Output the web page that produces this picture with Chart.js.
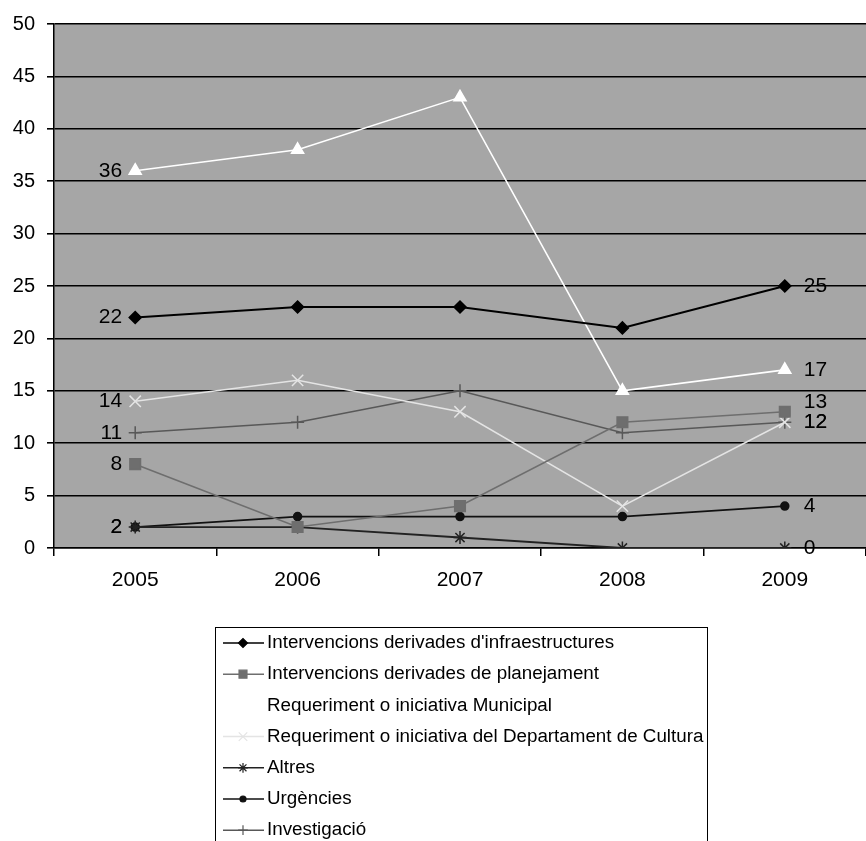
<!DOCTYPE html>
<html>
<head>
<meta charset="utf-8">
<style>
html,body{margin:0;padding:0;background:#fff;overflow:hidden;}
#wrap{width:866px;height:841px;}
</style>
<script src="https://cdn.jsdelivr.net/npm/chart.js@4.4.1/dist/chart.umd.min.js"></script>
</head>
<body>
<div id="wrap"><canvas id="c" width="866" height="841"></canvas></div>
<script>
const years = ['2005', '2006', '2007', '2008', '2009'];
const infraestructures = [22, 23, 23, 21, 25];
const planejament = [8, 2, 4, 12, 13];
const municipal = [36, 38, 43, 15, 17];
const cultura = [14, 16, 13, 4, 12];
const altres = [2, 2, 1, 0, 0];
const urgencies = [2, 3, 3, 3, 4];
const investigacio = [11, 12, 15, 11, 12];
const yTicks = [0, 5, 10, 15, 20, 25, 30, 35, 40, 45, 50];

const FONT = "'Liberation Sans', Arial, sans-serif";

function ds(label, data, color, style, radius, width) {
  return {
    label, data,
    borderColor: color, backgroundColor: color,
    pointBackgroundColor: color, pointBorderColor: color,
    pointStyle: style, pointRadius: radius, pointHoverRadius: radius,
    pointBorderWidth: 1.5, borderWidth: width, tension: 0, fill: false
  };
}

const datasets = [
  ds("Intervencions derivades d'infraestructures", infraestructures, '#000000', 'rectRot', 6, 2),
  ds('Intervencions derivades de planejament', planejament, '#6e6e6e', 'rect', 7.5, 1.6),
  ds('Requeriment o iniciativa Municipal', municipal, '#ffffff', 'triangle', 7, 1.6),
  ds('Requeriment o iniciativa del Departament de Cultura', cultura, '#e4e4e4', 'crossRot', 8, 1.5),
  ds('Altres', altres, '#222222', 'star', 6.5, 1.8),
  ds('Urgències', urgencies, '#111111', 'circle', 4, 1.8),
  ds('Investigació', investigacio, '#585858', 'cross', 6.5, 1.5)
];

const bgPlugin = {
  id: 'plotBg',
  beforeDraw(chart) {
    const {ctx, chartArea: a} = chart;
    ctx.save();
    ctx.fillStyle = '#a6a6a6';
    ctx.fillRect(a.left, a.top, a.right - a.left, a.bottom - a.top);
    ctx.restore();
  }
};

const labelPlugin = {
  id: 'endLabels',
  afterDatasetsDraw(chart) {
    const ctx = chart.ctx;
    ctx.save();
    ctx.font = '21px ' + FONT;
    ctx.fillStyle = '#000';
    ctx.textBaseline = 'middle';
    const rights = [];
    chart.data.datasets.forEach((d, i) => {
      const meta = chart.getDatasetMeta(i);
      const first = meta.data[0];
      const last = meta.data[meta.data.length - 1];
      ctx.textAlign = 'right';
      ctx.fillText(String(d.data[0]), first.x - 13, first.y);
      rights.push({text: String(d.data[d.data.length - 1]), x: last.x + 19, y: last.y});
    });
    // simple collision avoidance for right-hand labels: push the upper one up
    rights.sort((a, b) => b.y - a.y);
    for (let k = 1; k < rights.length; k++) {
      const below = rights[k - 1];
      if (below.y - rights[k].y < 20 && below.y - rights[k].y > 0) {
        rights[k].y = below.y - 20;
      }
    }
    ctx.textAlign = 'left';
    rights.forEach(r => ctx.fillText(r.text, r.x, r.y));
    ctx.restore();
  }
};

const legendPlugin = {
  id: 'boxLegend',
  afterDraw(chart) {
    const ctx = chart.ctx;
    const left = 215, top = 627, right = 707, bottom = 845;
    ctx.save();
    ctx.fillStyle = '#fff';
    ctx.fillRect(left, top, right - left, bottom - top);
    ctx.strokeStyle = '#000';
    ctx.lineWidth = 1;
    ctx.strokeRect(left + 0.5, top + 0.5, right - left, bottom - top);
    ctx.font = '18.8px ' + FONT;
    ctx.textAlign = 'left';
    ctx.textBaseline = 'middle';
    chart.data.datasets.forEach((d, i) => {
      const y = 643 + i * 31.2;
      ctx.strokeStyle = d.borderColor;
      ctx.lineWidth = 1.5;
      ctx.beginPath();
      ctx.moveTo(223, y);
      ctx.lineTo(264, y);
      ctx.stroke();
      ctx.fillStyle = d.pointBackgroundColor;
      ctx.strokeStyle = d.pointBorderColor;
      ctx.lineWidth = 1.2;
      Chart.helpers.drawPoint(ctx, {pointStyle: d.pointStyle, radius: d.pointRadius * 0.75, rotation: 0, borderWidth: 1.2}, 243, y);
      ctx.fillStyle = '#000';
      ctx.fillText(d.label, 267, y);
    });
    ctx.restore();
  }
};

new Chart(document.getElementById('c'), {
  type: 'line',
  data: {labels: years, datasets},
  options: {
    responsive: false,
    devicePixelRatio: 1,
    animation: false,
    events: [],
    layout: {autoPadding: false, padding: {top: 24, left: 0, right: -5, bottom: 243}},
    plugins: {legend: {display: false}, tooltip: {enabled: false}, title: {display: false}},
    scales: {
      x: {
        type: 'category',
        offset: true,
        grid: {offset: true, drawOnChartArea: false, drawTicks: true, tickLength: 8, color: '#000', lineWidth: 1.5},
        border: {display: true, color: '#000', width: 1.5},
        ticks: {color: '#000', font: {family: FONT, size: 21}, padding: 12, maxRotation: 0},
        afterFit(s) { s.height = 50; s.paddingLeft = 0; s.paddingRight = 0; }
      },
      y: {
        min: 0, max: 50,
        afterBuildTicks(s) { s.ticks = yTicks.map(v => ({value: v})); },
        grid: {color: '#000', lineWidth: 1.6, tickLength: 7, drawTicks: true},
        border: {display: true, color: '#000', width: 1.5},
        ticks: {color: '#000', font: {family: FONT, size: 20}, padding: 12},
        afterFit(s) { s.width = 54; }
      }
    }
  },
  plugins: [bgPlugin, labelPlugin, legendPlugin]
});
</script>
</body>
</html>
